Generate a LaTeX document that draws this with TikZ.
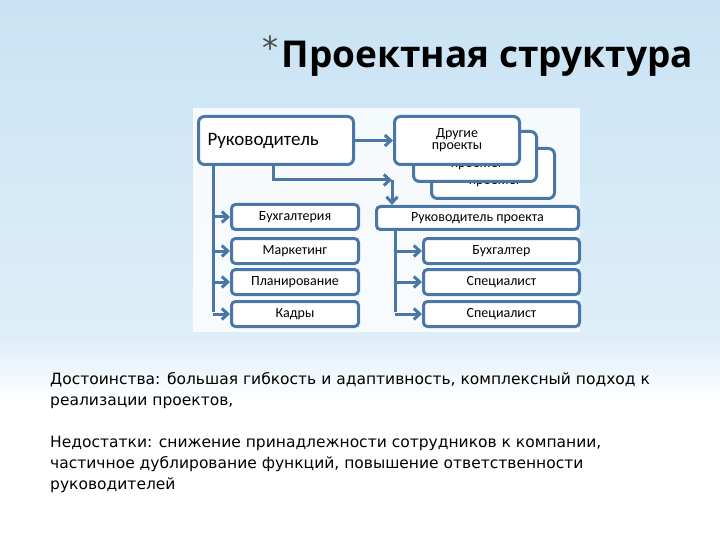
\documentclass[tikz,border=0pt]{standalone}
\usepackage{fontspec}
\setmainfont{DejaVu Sans}
\newfontfamily\boxfont{Carlito}
\newfontfamily\titlefont{Open Sans}
\usetikzlibrary{arrows.meta}
\definecolor{bdr}{HTML}{4A76A8}
\definecolor{bgtop}{HTML}{C9E3F4}
\tikzset{
  bx/.style={draw=bdr,line width=3pt,rounded corners=6pt,fill=white,font=\boxfont\fontsize{14}{15}\selectfont,inner sep=0pt},
  ar/.style={draw=bdr,line width=3pt,-{Straight Barb[length=6pt,width=11pt]}},
  ln/.style={draw=bdr,line width=3pt}
}
\begin{document}
\begin{tikzpicture}[x=1pt,y=-1pt]
\useasboundingbox (0,0) rectangle (720,540);
\shade[top color=bgtop,bottom color=bgtop!60!white] (0,0) rectangle (720,340);
\shade[top color=bgtop!60!white,bottom color=white] (0,340) rectangle (720,400);
\fill[white] (0,400) rectangle (720,540);
\fill[white,opacity=0.8] (193,108) rectangle (580,332);
% title
\node[anchor=base west,font=\titlefont\bfseries\fontsize{37}{40}\selectfont,text=black] (title) at (278,68) {Проектная структура};
\node[anchor=base east,font=\fontsize{32}{32}\selectfont,text=black!70] (star) at (282,60) {*};
% back boxes
\node[bx,minimum width=123pt,minimum height=50pt,anchor=north west,align=center] (p3) at (430,147) {};
\node[font=\boxfont\fontsize{14}{15}\selectfont] (p3t) at (494,182) {проекты};
\node[bx,minimum width=123pt,minimum height=50pt,anchor=north west] (p2) at (412,130) {};
\node[font=\boxfont\fontsize{14}{15}\selectfont] (p2t) at (476,165) {проекты};
\node[bx,minimum width=125pt,minimum height=48pt,anchor=north west,align=center] (p1) at (393,115) {Другие\\[-3pt]проекты};
\node[bx,minimum width=155pt,minimum height=48pt,anchor=north west,font=\boxfont\fontsize{19}{21}\selectfont,text width=137pt,align=left] (ruk) at (197,115) {Руководитель};
\node[bx,rounded corners=4pt,minimum width=202pt,minimum height=23pt,anchor=north west] (rp) at (375,205) {Руководитель проекта};
% left boxes
\foreach \n/\y/\t in {b1/203/Бухгалтерия,b2/237/Маркетинг,b3/268/Планирование,b4/300/Кадры}
  \node[bx,rounded corners=4pt,minimum width=127pt,minimum height=25pt,anchor=north west] (\n) at (230,\y) {\t};
\foreach \n/\y/\t in {r1/237/Бухгалтер,r2/268/Специалист,r3/300/Специалист}
  \node[bx,rounded corners=4pt,minimum width=156pt,minimum height=25pt,anchor=north west] (\n) at (422,\y) {\t};
% connectors
\coordinate (lt) at (213,163);
\coordinate (lb) at (213,312);
\draw[ln] (lt) -- (lb);
\foreach \n in {b1,b2,b3,b4} \draw[ar] (lt |- \n.west) -- (\n.west);
\coordinate (rt) at (395,228);
\coordinate (rb) at (395,312);
\draw[ln] (rt) -- (rb);
\foreach \n in {r1,r2,r3} \draw[ar] (rt |- \n.west) -- (\n.west);
\draw[ar] (ruk.east) -- (p1.west);
\coordinate (c1) at (273,163);
\coordinate (c2) at (392,180);
\draw[ar] (c1) |- (c2);
\draw[ar] (c2) -- (rp.north -| c2);
% text
\node[anchor=north west,align=left,font=\fontsize{15.5}{21}\selectfont,inner sep=0pt] (adv) at (50,372) {Достоинства: большая гибкость и адаптивность, комплексный подход к\\реализации проектов,};
\node[anchor=north west,align=left,font=\fontsize{15.5}{21}\selectfont,inner sep=0pt] (dis) at (50,436) {Недостатки: снижение принадлежности сотрудников к компании,\\частичное дублирование функций, повышение ответственности\\руководителей};
\end{tikzpicture}
\end{document}
